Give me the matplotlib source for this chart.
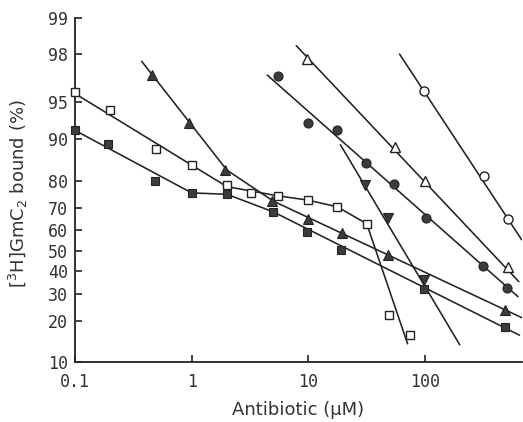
import numpy as np
import matplotlib
matplotlib.use("Agg")
import matplotlib.pyplot as plt
from matplotlib.ticker import FixedLocator, FixedFormatter, NullLocator

# ---------------- data ----------------
x_ticks = [0.1, 1, 10, 100]
x_tick_labels = ["0.1", "1", "10", "100"]
y_ticks = [10, 20, 30, 40, 50, 60, 70, 80, 90, 95, 98, 99]

open_sq_x = [0.1, 0.2, 0.49, 1.0, 2.0, 3.2, 5.5, 9.9, 17.7, 31.6, 49.3, 74]
open_sq_y = [95.8, 94.2, 88.1, 84.4, 78.5, 75.6, 74.7, 73.1, 70.4, 63.1, 22.1, 15.8]
open_sq_line_x = [0.1, 2.0, 5.5, 9.9, 17.7, 31.6, 71]
open_sq_line_y = [95.7, 78.0, 74.7, 73.1, 70.4, 63.0, 13.6]

filled_sq_x = [0.1, 0.19, 0.48, 1.0, 2.0, 5.0, 9.7, 19, 97, 484]
filled_sq_y = [91.5, 89.1, 79.8, 75.6, 75.3, 68.3, 58.9, 50.6, 31.8, 18.2]
filled_sq_line_x = [0.1, 1.0, 2.0, 5.0, 650]
filled_sq_line_y = [91.5, 75.8, 75.3, 68.3, 15.8]

filled_tri_x = [0.46, 0.95, 1.93, 4.85, 10, 19.3, 47.8, 484]
filled_tri_y = [97.0, 92.6, 83.1, 72.7, 65.1, 58.7, 48.1, 23.8]
filled_tri_line_x = [0.37, 2.0, 5.0, 695]
filled_tri_line_y = [97.7, 83.1, 72.7, 20.8]

filled_circ_x = [5.5, 9.9, 17.5, 31, 54.5, 101, 315, 500]
filled_circ_y = [96.9, 92.6, 91.6, 85.0, 78.8, 65.8, 42.6, 32.6]
filled_circ_line_x = [4.4, 630]
filled_circ_line_y = [97.0, 28.6]

open_tri_x = [9.7, 55, 100, 516]
open_tri_y = [97.8, 88.6, 79.8, 42.1]
open_tri_line_x = [7.8, 640]
open_tri_line_y = [98.3, 35.0]

open_circ_x = [98.5, 320, 516]
open_circ_y = [95.9, 81.3, 65.0]
open_circ_line_x = [60, 675]
open_circ_line_y = [98.0, 55.2]

inv_tri_x = [30.5, 48.4, 97]
inv_tri_y = [78.5, 65.8, 35.8]
inv_tri_line_x = [18.7, 199]
inv_tri_line_y = [89.1, 13.4]

# ---------------- figure ----------------
fig = plt.figure(figsize=(5.23, 4.22), dpi=100)
ax = fig.add_axes([75 / 523, 60 / 422, 447 / 523, 344 / 422])
ax.set_xscale("log")
ax.set_yscale("logit")

line_kw = dict(color="#222222", lw=1.15, solid_capstyle="butt", zorder=2)
filled_kw = dict(ls="none", mfc="#3c3c3c", mec="#222222", mew=0.8, zorder=3)
open_kw = dict(ls="none", mfc="white", mec="#222222", mew=1.0, zorder=3)

def frac(v):
    return np.asarray(v, dtype=float) / 100.0

series = [
    (open_sq_line_x, open_sq_line_y, open_sq_x, open_sq_y, "s", 6.0, open_kw),
    (filled_sq_line_x, filled_sq_line_y, filled_sq_x, filled_sq_y, "s", 6.0, filled_kw),
    (filled_tri_line_x, filled_tri_line_y, filled_tri_x, filled_tri_y, "^", 7.5, filled_kw),
    (filled_circ_line_x, filled_circ_line_y, filled_circ_x, filled_circ_y, "o", 6.5, filled_kw),
    (open_tri_line_x, open_tri_line_y, open_tri_x, open_tri_y, "^", 7.5, open_kw),
    (open_circ_line_x, open_circ_line_y, open_circ_x, open_circ_y, "o", 6.5, open_kw),
    (inv_tri_line_x, inv_tri_line_y, inv_tri_x, inv_tri_y, "v", 7.5, filled_kw),
]
for lx, ly, px, py, m, ms, kw in series:
    ax.plot(lx, frac(ly), **line_kw)
    ax.plot(px, frac(py), marker=m, ms=ms, clip_on=False, **kw)

ax.set_xlim(0.1, 676)
ax.set_ylim(0.10, 0.99)

ax.xaxis.set_major_locator(FixedLocator(x_ticks))
ax.xaxis.set_major_formatter(FixedFormatter(x_tick_labels))
ax.xaxis.set_minor_locator(NullLocator())
ax.yaxis.set_major_locator(FixedLocator(list(frac(y_ticks))))
ax.yaxis.set_major_formatter(FixedFormatter([str(v) for v in y_ticks]))
ax.yaxis.set_minor_locator(NullLocator())

for s in ("top", "right"):
    ax.spines[s].set_visible(False)
for s in ("left", "bottom"):
    ax.spines[s].set_linewidth(1.3)
    ax.spines[s].set_color("#222222")

ax.tick_params(axis="both", which="major", direction="in", length=5, width=1.2,
               color="#222222", labelcolor="#333333", labelsize=12)
ax.tick_params(axis="y", pad=5)
ax.tick_params(axis="x", pad=8)
for lab in ax.get_xticklabels() + ax.get_yticklabels():
    lab.set_family("DejaVu Sans Mono")

ax.set_xlabel("Antibiotic (\u03bcM)", fontsize=13, color="#333333", labelpad=7)
ax.set_ylabel("[$^{3}$H]GmC$_{2}$ bound (%)", fontsize=13, color="#333333")
ax.yaxis.set_label_coords(-0.1, 0.49)

fig.savefig("out.png", dpi=100)
